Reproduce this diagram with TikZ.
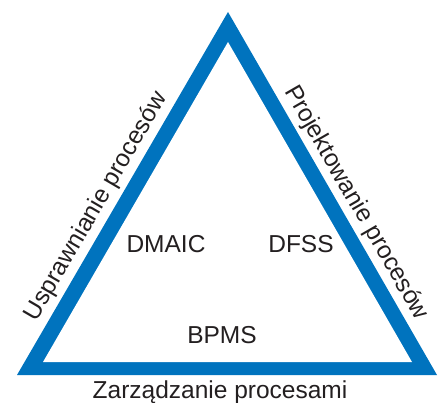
\documentclass[tikz,border=0pt]{standalone}
\usepackage{fontspec}
\setmainfont{Liberation Sans}
\definecolor{triblue}{RGB}{0,115,190}
\definecolor{txtgray}{RGB}{35,31,32}
\begin{document}
\begin{tikzpicture}[x=1pt,y=-1pt,
  lbl/.style={text=txtgray,font=\fontsize{24.5}{28}\selectfont,inner sep=0pt}]
\useasboundingbox (0,0) rectangle (447,403);
\fill[triblue] (17,375) -- (437,375) -- (228,12) -- cycle;
\fill[white] (43,362) -- (412,362) -- (228,42) -- cycle;
\node[lbl,anchor=base] (dmaic) at (166,253) {DMAIC};
\node[lbl,anchor=base] (dfss) at (301,253) {DFSS};
\node[lbl,anchor=base] (bpms) at (222,343) {BPMS};
\node[lbl,anchor=base] (zarz) at (220,398) {Zarządzanie procesami};
\node[lbl,rotate=59.8] (uspr) at (96.5,206.5) {Usprawnianie procesów};
\node[lbl,rotate=-60] (proj) at (356,203) {Projektowanie procesów};
\end{tikzpicture}
\end{document}
